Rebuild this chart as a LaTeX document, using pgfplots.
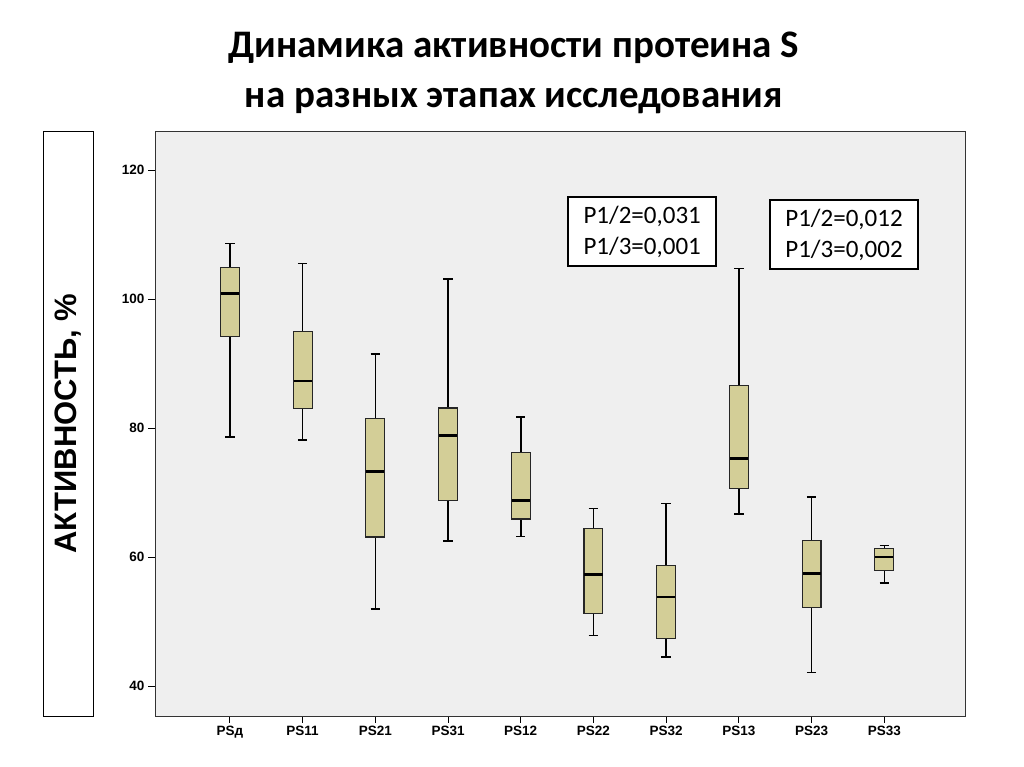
\documentclass[border=0pt]{standalone}
\usepackage{fontspec}
\setmainfont{Liberation Sans}
\newfontfamily\calibri{Carlito}
\usepackage{pgfplots}
\pgfplotsset{compat=1.18}

\definecolor{boxfill}{RGB}{211,206,151}
\definecolor{bggrey}{RGB}{239,239,239}

\pgfplotsset{
  box/.style={draw=black!85, line width=1.1pt, fill=boxfill, mark=none},
  wsk/.style={draw=black, line width=1.6pt, mark=none, unbounded coords=jump},
  med/.style={draw=black, line width=2.8pt, mark=none, unbounded coords=jump},
}

\begin{document}
\begin{tikzpicture}
\path[use as bounding box] (0,0) rectangle (1024pt,767pt);
\begin{axis}[
  at={(155pt,51pt)}, anchor=south west,
  scale only axis, width=810pt, height=585pt,
  xmin=-1.03, xmax=10.11, ymin=35.35, ymax=126.05,
  axis background/.style={fill=bggrey},
  axis line style={black!80, line width=0.9pt},
  ytick={40,60,80,100,120},
  xtick={0,...,9},
  xticklabels={PSд,PS11,PS21,PS31,PS12,PS22,PS32,PS13,PS23,PS33},
  tick pos=left, tick align=outside,
  major tick length=7pt,
  every tick/.style={black, line width=1pt},
  tick label style={font=\fontsize{13.5}{15}\selectfont\bfseries},
  /pgf/number format/assume math mode=true,
  ylabel={АКТИВНОСТЬ, \%},
  ylabel style={draw=black, line width=0.8pt, font=\fontsize{31}{34}\selectfont\bfseries,
    minimum width=585pt, minimum height=50pt, inner sep=0pt,
    at={(axis description cs:-0.1074,0.5)}, anchor=center},
  title={Динамика активности протеина S\\на разных этапах исследования},
  title style={font=\calibri\fontsize{39}{50}\selectfont\bfseries, align=center,
    at={(axis description cs:0.443,1.089)}, anchor=center},
  clip=false,
]
% whiskers: lower whisker to upper whisker, with caps
\addplot[wsk] coordinates {
  (0,78.65) (0,108.6) (0,nan) (-0.065,108.6) (0.065,108.6) (0,nan) (-0.065,78.65) (0.065,78.65) (0,nan)
  (1,78.1) (1,105.5) (1,nan) (0.935,105.5) (1.065,105.5) (1,nan) (0.935,78.1) (1.065,78.1) (1,nan)
  (2,51.9) (2,91.5) (2,nan) (1.935,91.5) (2.065,91.5) (2,nan) (1.935,51.9) (2.065,51.9) (2,nan)
  (3,62.5) (3,103.1) (3,nan) (2.935,103.1) (3.065,103.1) (3,nan) (2.935,62.5) (3.065,62.5) (3,nan)
  (4,63.2) (4,81.7) (4,nan) (3.935,81.7) (4.065,81.7) (4,nan) (3.935,63.2) (4.065,63.2) (4,nan)
  (5,47.8) (5,67.5) (5,nan) (4.935,67.5) (5.065,67.5) (5,nan) (4.935,47.8) (5.065,47.8) (5,nan)
  (6,44.5) (6,68.3) (6,nan) (5.935,68.3) (6.065,68.3) (6,nan) (5.935,44.5) (6.065,44.5) (6,nan)
  (7,66.7) (7,104.7) (7,nan) (6.935,104.7) (7.065,104.7) (7,nan) (6.935,66.7) (7.065,66.7) (7,nan)
  (8,42.1) (8,69.3) (8,nan) (7.935,69.3) (8.065,69.3) (8,nan) (7.935,42.1) (8.065,42.1) (8,nan)
  (9,56.0) (9,61.8) (9,nan) (8.935,61.8) (9.065,61.8) (9,nan) (8.935,56.0) (9.065,56.0)
};
% boxes: lower quartile to upper quartile
\addplot[box] coordinates {(-0.13,94.2) (0.13,94.2) (0.13,104.9) (-0.13,104.9)} -- cycle;
\addplot[box] coordinates {(0.87,83.0) (1.13,83.0) (1.13,95.0) (0.87,95.0)} -- cycle;
\addplot[box] coordinates {(1.87,63.1) (2.13,63.1) (2.13,81.5) (1.87,81.5)} -- cycle;
\addplot[box] coordinates {(2.87,68.8) (3.13,68.8) (3.13,83.1) (2.87,83.1)} -- cycle;
\addplot[box] coordinates {(3.87,65.9) (4.13,65.9) (4.13,76.2) (3.87,76.2)} -- cycle;
\addplot[box] coordinates {(4.87,51.3) (5.13,51.3) (5.13,64.4) (4.87,64.4)} -- cycle;
\addplot[box] coordinates {(5.87,47.4) (6.13,47.4) (6.13,58.7) (5.87,58.7)} -- cycle;
\addplot[box] coordinates {(6.87,70.6) (7.13,70.6) (7.13,86.6) (6.87,86.6)} -- cycle;
\addplot[box] coordinates {(7.87,52.2) (8.13,52.2) (8.13,62.5) (7.87,62.5)} -- cycle;
\addplot[box] coordinates {(8.87,57.9) (9.13,57.9) (9.13,61.3) (8.87,61.3)} -- cycle;
% medians
\addplot[med] coordinates {
  (-0.125,100.9) (0.125,100.9) (0,nan)
  (0.875,87.3) (1.125,87.3) (1,nan)
  (1.875,73.2) (2.125,73.2) (2,nan)
  (2.875,78.8) (3.125,78.8) (3,nan)
  (3.875,68.8) (4.125,68.8) (4,nan)
  (4.875,57.3) (5.125,57.3) (5,nan)
  (5.875,53.8) (6.125,53.8) (6,nan)
  (6.875,75.3) (7.125,75.3) (7,nan)
  (7.875,57.4) (8.125,57.4) (8,nan)
  (8.875,60.0) (9.125,60.0)
};
\node[draw=black, line width=2.4pt, fill=white, minimum width=148pt, minimum height=69pt,
  align=center, font=\calibri\fontsize{25}{31}\selectfont]
  at (axis cs:5.67,110.47) {P1/2=0,031\\P1/3=0,001};
\node[draw=black, line width=2.4pt, fill=white, minimum width=148pt, minimum height=69pt,
  align=center, font=\calibri\fontsize{25}{31}\selectfont]
  at (axis cs:8.446,110.0) {P1/2=0,012\\P1/3=0,002};
\end{axis}
\end{tikzpicture}
\end{document}
